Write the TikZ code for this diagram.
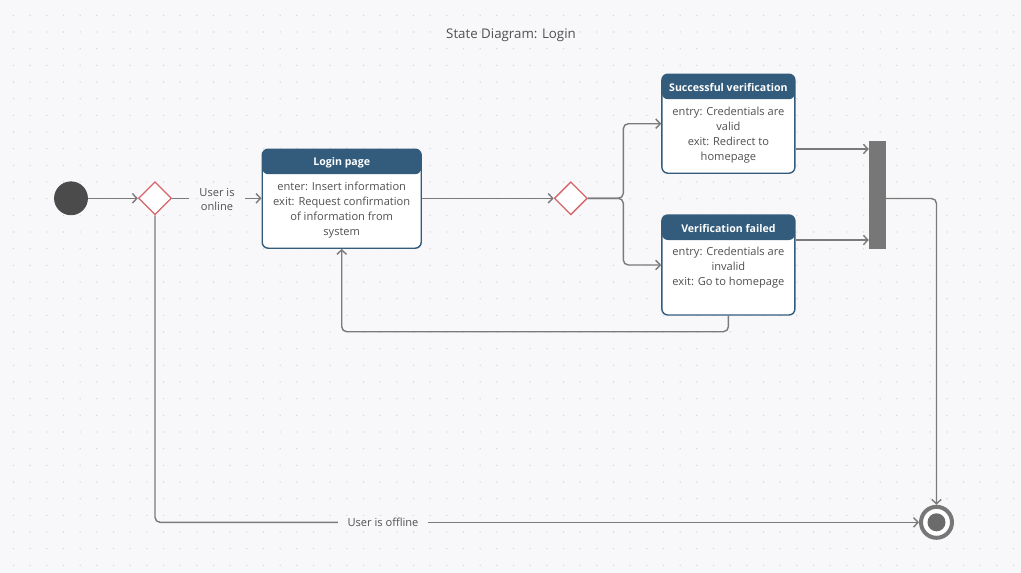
\documentclass[tikz,border=0pt]{standalone}
\usepackage{fontspec}
\setmainfont{Open Sans}
\usepackage{tikz}
\usetikzlibrary{positioning}
\usetikzlibrary{shapes.geometric}
\usetikzlibrary{arrows.meta}
\definecolor{bg}{HTML}{F8F8FA}
\definecolor{dotgray}{HTML}{D9D9DE}
\definecolor{linegray}{HTML}{7A7A7A}
\definecolor{headblue}{HTML}{335C7C}
\definecolor{decred}{HTML}{D8646B}
\definecolor{textgray}{HTML}{505050}
\definecolor{initgray}{HTML}{4B4B4B}
\definecolor{bargray}{HTML}{777777}

\begin{document}
\begin{tikzpicture}[x=1pt, y=-1pt,
  flow/.style = {draw=linegray, line width=1.4pt, rounded corners=5pt},
  arr/.style = {flow, -{Straight Barb[length=4.5pt,width=9.5pt]}},
  state/.style 2 args = {draw=headblue, line width=1.4pt, fill=white,
    rounded corners=6pt, inner sep=0pt, minimum width=#1, minimum height=#2,
    path picture = {\fill[headblue] (path picture bounding box.north west)
      rectangle ([yshift=-25pt]path picture bounding box.north east);}},
  headtext/.style = {text=white, font=\fontsize{10.6}{12}\selectfont\bfseries, inner sep=0pt},
  bodytext/.style = {text=textgray, font=\fontsize{11.1}{15}\selectfont, align=center, inner sep=0pt},
  edgetext/.style = {text=textgray, font=\fontsize{11.1}{14}\selectfont, align=center, inner ysep=0pt},
  decision/.style = {diamond, draw=decred, fill=white, line width=1.3pt,
    minimum width=33pt, minimum height=33pt, inner sep=0pt}
]
% background and dot grid
\useasboundingbox[fill=bg] (0,0) rectangle (1021,573);
\foreach \i in {0,...,60} {
  \foreach \j in {0,...,33} {
    \fill[dotgray] (13.5+16.667*\i, 15.3+16.667*\j) circle (0.8);
  }
}

\node[text=textgray, font=\fontsize{13.3}{16}\selectfont] (title) at (511,35.5) {State Diagram: Login};

% states
\node[circle, fill=initgray, draw=black!70, line width=0.8pt, minimum size=33pt, inner sep=0pt] (init) at (71,198.3) {};
\node[decision] (d1) at (155,198.3) {};
\node[edgetext, inner xsep=10.5pt] (online) at (217,199.2) {User is\\online};

\node[state={159pt}{99pt}] (login) at (341.7,198.7) {};
\node[headtext] (login-head) at ([yshift=-14pt]login.north) {Login page};
\node[bodytext, below=33pt of login.north] (login-body)
  {enter: Insert information\\exit: Request confirmation\\of information from\\system};

\node[decision] (d2) at (570.8,198.3) {};

\node[state={133pt}{99pt}] (succ) at (728.4,123.7) {};
\node[headtext] (succ-head) at ([yshift=-14pt]succ.north) {Successful verification};
\node[bodytext, below=33pt of succ.north] (succ-body)
  {entry: Credentials are\\valid\\exit: Redirect to\\homepage};

\node[state={133pt}{100pt}] (fail) at (728.4,265) {};
\node[headtext] (fail-head) at ([yshift=-14pt]fail.north) {Verification failed};
\node[bodytext, below=33pt of fail.north] (fail-body)
  {entry: Credentials are\\invalid\\exit: Go to homepage};

\node[fill=bargray, minimum width=17pt, minimum height=108pt, inner sep=0pt] (bar) at (877.5,194.5) {};

\node[circle, draw=bargray, line width=4pt, fill=white, minimum size=31pt, inner sep=0pt] (final) at (936.5,522.3) {};
\node[circle, fill=bargray!90!black, minimum size=18pt, inner sep=0pt] (final-dot) at (final) {};
\node[edgetext, inner xsep=9.5pt] (offline) at (383,522.3) {User is offline};

% transitions
\draw[arr] (init) -- (d1);
\draw[flow] (d1.east) -- (online.west |- d1.east);
\draw[arr] (online.east |- d1.east) -- (login.west |- d1.east);
\draw[arr] (login.east |- d2.west) -- (d2.west);
\draw[arr] (d2.east) -- (623.3,198.3) |- (succ.west);
\draw[arr] (d2.east) -- (623.3,198.3) |- (fail.west);
\draw[arr] (succ.east |- 0,149) -- (bar.west |- 0,149);
\draw[arr] (fail.east |- 0,240) -- (bar.west |- 0,240);
\draw[arr] (bar.east |- 0,198.5) -| (final.north);
\draw[arr] (fail.south) -- ++(0,16) -| (login.south);
\draw[flow] (d1.south) |- (offline.west);
\draw[arr] (offline.east) -- (final.west);
\end{tikzpicture}
\end{document}
